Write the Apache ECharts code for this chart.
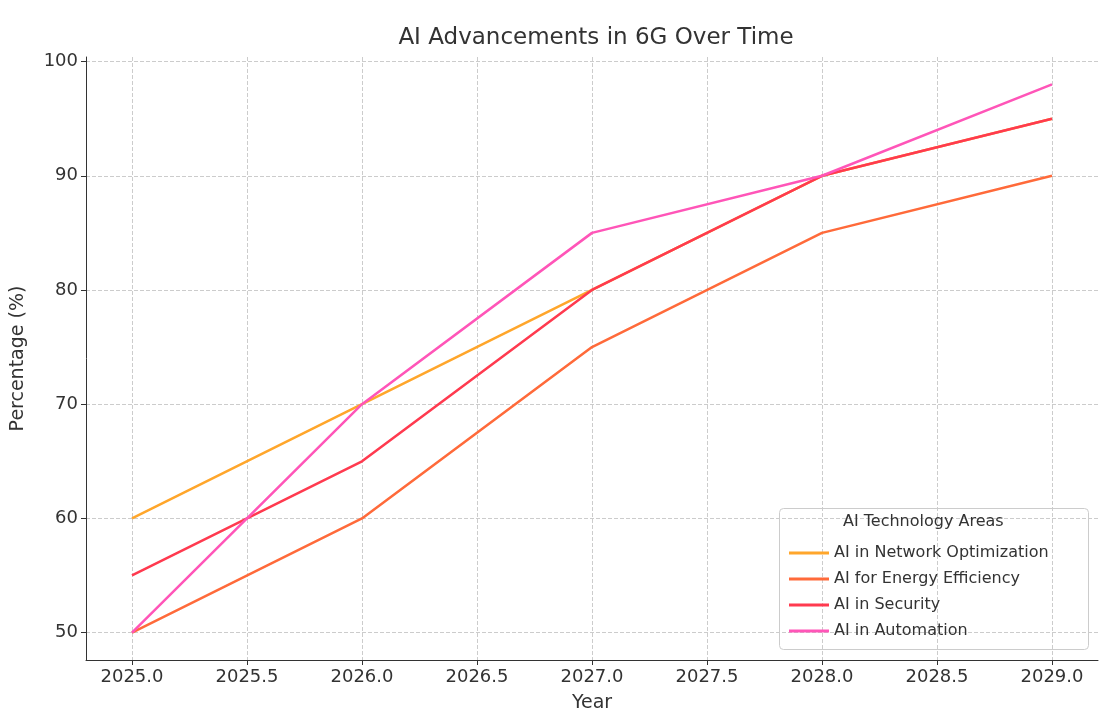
<!DOCTYPE html>
<html><head><meta charset="utf-8">
<script src="https://cdn.jsdelivr.net/npm/echarts@6/dist/echarts.min.js"></script>
<style>html,body{margin:0;background:#fff}#c{width:1115px;height:720px}</style>
</head><body><div id="c"></div>
<script>
const years = [2025, 2026, 2027, 2028, 2029];
const seriesNames = ['AI in Network Optimization', 'AI for Energy Efficiency', 'AI in Security', 'AI in Automation'];
const networkOpt = [60, 70, 80, 90, 95];
const energyEff = [50, 60, 75, 85, 90];
const security = [55, 65, 80, 90, 95];
const automation = [50, 70, 85, 90, 98];
const colors = ['#ffa62b', '#ff6a3a', '#ff3a4f', '#ff55b8'];
const xTicks = [2025, 2025.5, 2026, 2026.5, 2027, 2027.5, 2028, 2028.5, 2029];
const yTicks = [50, 60, 70, 80, 90, 100];

const chart = echarts.init(document.getElementById('c'));
const font = 'DejaVu Sans';
const allData = [networkOpt, energyEff, security, automation];
chart.setOption({
  animation: false,
  textStyle: { fontFamily: font },
  title: { text: 'AI Advancements in 6G Over Time', left: 591, top: 22, textAlign: 'center',
    textStyle: { fontSize: 23, fontWeight: 'normal', color: '#333', fontFamily: font } },
  grid: { left: 86, right: 17, top: 57, bottom: 60 },
  xAxis: {
    type: 'value', min: 2024.8, max: 2029.2,
    name: 'Year', nameLocation: 'middle', nameGap: 34,
    nameTextStyle: { fontSize: 19, color: '#333' },
    axisLine: { lineStyle: { color: '#333' } },
    axisTick: { customValues: xTicks, lineStyle: { color: '#333' } },
    axisLabel: { customValues: xTicks, fontSize: 18, color: '#333', formatter: v => v.toFixed(1) },
    splitLine: { show: true, lineStyle: { type: 'dashed', color: '#ccc' } }
  },
  yAxis: {
    type: 'value', min: 47.6, max: 100.4,
    name: 'Percentage (%)', nameLocation: 'middle', nameGap: 58,
    nameTextStyle: { fontSize: 19, color: '#333' },
    axisLine: { show: true, lineStyle: { color: '#333' } },
    axisTick: { show: true, customValues: yTicks, lineStyle: { color: '#333' } },
    axisLabel: { customValues: yTicks, fontSize: 18, color: '#333' },
    splitLine: { show: true, lineStyle: { type: 'dashed', color: '#ccc' } }
  },
  legend: {
    orient: 'vertical', left: 784, top: 540, itemGap: 10,
    itemWidth: 40, itemHeight: 3, icon: 'rect',
    textStyle: { fontSize: 16, color: '#333' },
    data: seriesNames
  },
  graphic: [
    { type: 'rect', left: 779, top: 508, shape: { width: 309, height: 141, r: 4 },
      style: { fill: 'rgba(255,255,255,0.85)', stroke: '#ccc' }, z: 0 },
    { type: 'text', left: 843, top: 514, style: { text: 'AI Technology Areas', fontSize: 16, fill: '#333', fontFamily: font }, z: 1 }
  ],
  series: seriesNames.map((n, i) => ({
    name: n, type: 'line', symbol: 'none',
    lineStyle: { width: 2.5, color: colors[i] }, itemStyle: { color: colors[i] },
    data: years.map((y, j) => [y, allData[i][j]])
  }))
});
</script></body></html>
